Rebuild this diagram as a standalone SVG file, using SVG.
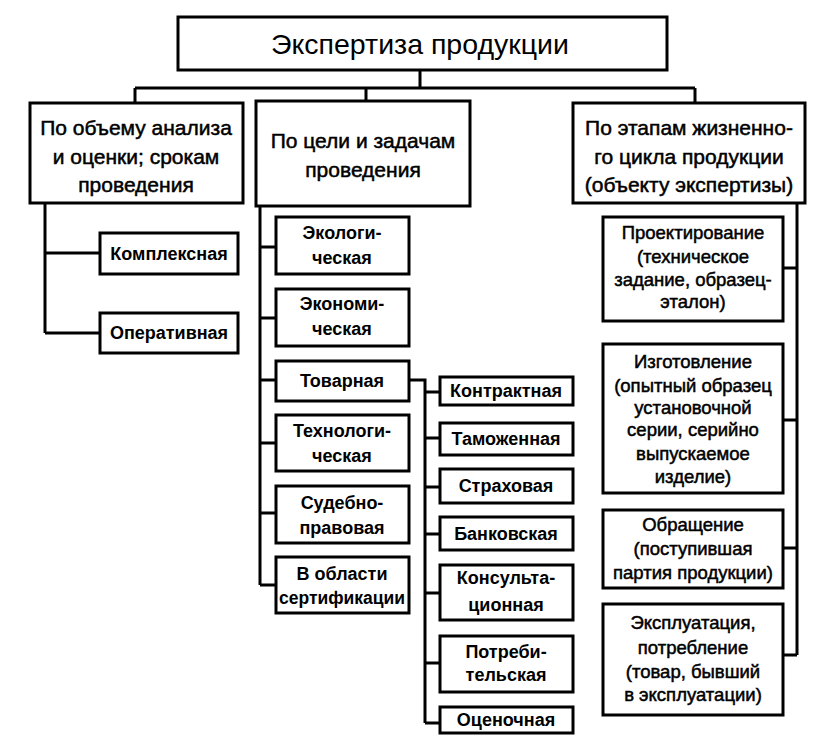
<svg xmlns="http://www.w3.org/2000/svg" width="828" height="749" viewBox="0 0 828 749">
<style>
rect{fill:#fff;stroke:#000;stroke-width:3}
#connectors path{fill:none;stroke:#000;stroke-width:3}
text{font-family:"Liberation Sans",Arial,sans-serif;text-anchor:middle;fill:#000}
.t{font-size:28.5px}
.h{font-size:21px;stroke:#000;stroke-width:0.5}
.b{font-size:18px;font-weight:bold}
.r{font-size:18.5px;stroke:#000;stroke-width:0.5}
</style>
<rect width="828" height="749" style="fill:#fff;stroke:none"/>
<g id="connectors">
<path d="M420 70V88M135 88H695M135 88V103M366 88V101M695 88V103"/>
<path d="M45 203V333M45 253H100M45 333H100"/>
<path d="M260 206V585M260 247H276M260 318H276M260 380H276M260 443H276M260 513H276M260 585H276"/>
<path d="M409 380H425V723M425 392H440M425 438H440M425 487H440M425 534H440M425 593H440M425 663H440M425 723H440"/>
<path d="M797 203V655M783 268H797M783 420H797M783 548H797M783 655H797"/>
</g>
<g id="root"><rect x="178" y="17" width="489" height="53"/><text class="t" x="420" y="54">Экспертиза продукции</text></g>
<g id="n-volume"><rect x="30" y="103" width="213" height="100"/><text class="h"><tspan x="136" y="135">По объему анализа</tspan><tspan x="136" y="164">и оценки; срокам</tspan><tspan x="136" y="192">проведения</tspan></text></g>
<g id="n-goal"><rect x="256" y="101" width="214" height="105"/><text class="h"><tspan x="363" y="148">По цели и задачам</tspan><tspan x="363" y="177">проведения</tspan></text></g>
<g id="n-stage"><rect x="573" y="103" width="232" height="100"/><text class="h"><tspan x="689" y="135">По этапам жизненно-</tspan><tspan x="689" y="164">го цикла продукции</tspan><tspan x="689" y="192">(объекту экспертизы)</tspan></text></g>
<g id="n-kompl"><rect x="100" y="233" width="138" height="41"/><text class="b" x="169" y="260">Комплексная</text></g>
<g id="n-oper"><rect x="100" y="313" width="138" height="40"/><text class="b" x="169" y="339">Оперативная</text></g>
<g id="n-eko"><rect x="276" y="217" width="133" height="57"/><text class="b"><tspan x="342" y="239">Экологи-</tspan><tspan x="342" y="264">ческая</tspan></text></g>
<g id="n-econ"><rect x="276" y="289" width="133" height="57"/><text class="b"><tspan x="342" y="310">Экономи-</tspan><tspan x="342" y="335">ческая</tspan></text></g>
<g id="n-tovar"><rect x="276" y="361" width="133" height="40"/><text class="b" x="342" y="387">Товарная</text></g>
<g id="n-tech"><rect x="276" y="415" width="133" height="56"/><text class="b"><tspan x="342" y="437">Технологи-</tspan><tspan x="342" y="462">ческая</tspan></text></g>
<g id="n-sud"><rect x="276" y="486" width="133" height="57"/><text class="b"><tspan x="342" y="509">Судебно-</tspan><tspan x="342" y="534">правовая</tspan></text></g>
<g id="n-sert"><rect x="276" y="557" width="133" height="56"/><text class="b"><tspan x="342" y="580">В области</tspan><tspan x="342" y="604" style="font-size:17.5px">сертификации</tspan></text></g>
<g id="n-kontr"><rect x="440" y="377" width="133" height="28"/><text class="b" x="506" y="397">Контрактная</text></g>
<g id="n-tam"><rect x="440" y="423" width="133" height="32"/><text class="b" x="506" y="445">Таможенная</text></g>
<g id="n-strah"><rect x="440" y="469" width="133" height="34"/><text class="b" x="506" y="492">Страховая</text></g>
<g id="n-bank"><rect x="440" y="517" width="133" height="33"/><text class="b" x="506" y="540">Банковская</text></g>
<g id="n-kons"><rect x="440" y="565" width="133" height="55"/><text class="b"><tspan x="506" y="584">Консульта-</tspan><tspan x="506" y="611">ционная</tspan></text></g>
<g id="n-potr"><rect x="440" y="636" width="133" height="56"/><text class="b"><tspan x="506" y="658">Потреби-</tspan><tspan x="506" y="681">тельская</tspan></text></g>
<g id="n-ocen"><rect x="440" y="707" width="133" height="26"/><text class="b" x="506" y="726">Оценочная</text></g>
<g id="n-proekt"><rect x="603" y="217" width="180" height="104"/><text class="r"><tspan x="693" y="239">Проектирование</tspan><tspan x="693" y="263">(техническое</tspan><tspan x="693" y="286">задание, образец-</tspan><tspan x="693" y="308">эталон)</tspan></text></g>
<g id="n-izgot"><rect x="603" y="344" width="180" height="149"/><text class="r"><tspan x="693" y="368">Изготовление</tspan><tspan x="693" y="392">(опытный образец</tspan><tspan x="693" y="414">установочной</tspan><tspan x="693" y="436">серии, серийно</tspan><tspan x="693" y="460">выпускаемое</tspan><tspan x="693" y="483">изделие)</tspan></text></g>
<g id="n-obr"><rect x="603" y="510" width="180" height="78"/><text class="r"><tspan x="693" y="531">Обращение</tspan><tspan x="693" y="555">(поступившая</tspan><tspan x="693" y="579">партия продукции)</tspan></text></g>
<g id="n-ekspl"><rect x="603" y="604" width="180" height="111"/><text class="r"><tspan x="693" y="629">Эксплуатация,</tspan><tspan x="693" y="654">потребление</tspan><tspan x="693" y="678">(товар, бывший</tspan><tspan x="693" y="701">в эксплуатации)</tspan></text></g>
</svg>
